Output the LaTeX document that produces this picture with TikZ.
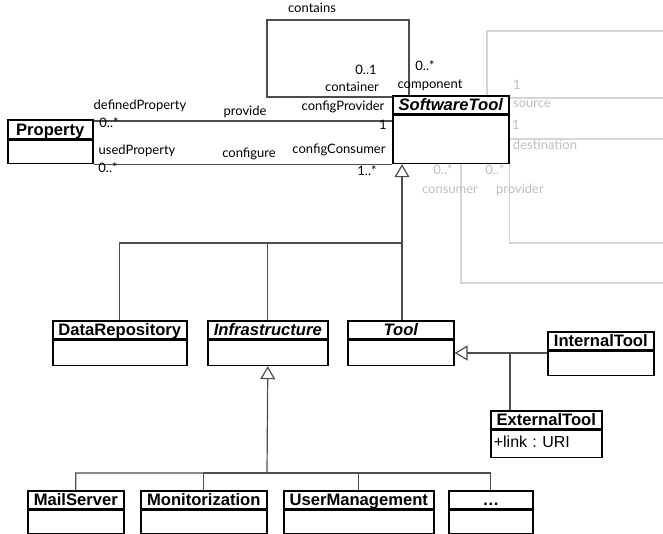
\documentclass[tikz,border=0pt]{standalone}
\usepackage{fontspec}
\setmainfont{Liberation Sans}
\newfontfamily\rolefont{Lato}
\usetikzlibrary{arrows.meta}
\definecolor{lines}{HTML}{4D4D4D}
\definecolor{faded}{HTML}{D6D6D6}
\definecolor{fadedtext}{HTML}{BEBEBE}
\frenchspacing
\begin{document}
\begin{tikzpicture}[x=1pt,y=-1pt,
  classhead/.style={draw,line width=1.6pt,anchor=north west,inner sep=0pt,minimum height=18pt,
    text height=15pt,text depth=3pt,font=\fontsize{16.6}{18}\selectfont\bfseries},
  abstract/.style={classhead,font=\fontsize{16.6}{18}\selectfont\bfseries\itshape},
  classbody/.style={draw,line width=1.6pt,anchor=north west,inner sep=0pt},
  assoc/.style={draw=lines,line width=1.2pt},
  inherit/.style={assoc,-{Triangle[open,length=13pt,width=15pt]}},
  faint/.style={draw=faded,line width=1.1pt},
  role/.style={font=\rolefont\fontsize{13}{15}\selectfont,inner sep=0pt,text height=9pt,text depth=3pt},
  faintrole/.style={role,text=fadedtext}]
\useasboundingbox (0,0) rectangle (663,533);
\node[classhead,minimum width=85pt,minimum height=19pt] (prop) at (7,119) {Property};
\node[classbody,minimum width=85pt,minimum height=23pt] (prop-b) at (prop.south west) {};
\node[abstract,minimum width=116pt] (st) at (392,95) {SoftwareTool};
\node[classbody,minimum width=116pt,minimum height=48pt] (st-b) at (st.south west) {};
\node[classhead,minimum width=134pt] (dr) at (52,320) {DataRepository};
\node[classbody,minimum width=134pt,minimum height=25pt] (dr-b) at (dr.south west) {};
\node[abstract,minimum width=120pt] (inf) at (207,320) {Infrastructure};
\node[classbody,minimum width=120pt,minimum height=25pt] (inf-b) at (inf.south west) {};
\node[abstract,minimum width=106pt] (tool) at (347,320) {Tool};
\node[classbody,minimum width=106pt,minimum height=25pt] (tool-b) at (tool.south west) {};
\node[classhead,minimum width=106pt] (it) at (547,331) {InternalTool};
\node[classbody,minimum width=106pt,minimum height=24pt] (it-b) at (it.south west) {};
\node[classhead,minimum width=111pt] (et) at (490,410) {ExternalTool};
\node[classbody,minimum width=111pt,minimum height=27pt,text width=105pt,inner xsep=3pt,align=left,
  text height=11pt,text depth=4pt,font=\fontsize{16}{18}\selectfont] (et-b) at (et.south west) {+link : URI};
\foreach \n/\x/\w/\t in {ms/27/96/MailServer,mon/140/126/Monitorization,um/283/150/UserManagement,more/448/84/\ldots}{
  \node[classhead,minimum width=\w pt] (\n) at (\x,490) {\t};
  \node[classbody,minimum width=\w pt,minimum height=23pt] (\n-b) at (\n.south west) {};
}
\draw[assoc] ([yshift=-2pt]prop.north east) -- ([yshift=-2pt]prop.north east -| st-b.west);
\draw[assoc] (prop-b.south east) -- (prop-b.south east -| st-b.west);
\coordinate (loop) at (267,20);
\draw[assoc] ([xshift=17pt]st.north west) |- (loop) |- ([yshift=-2pt]st.north west);
\coordinate (bus) at (402,243);
\draw[inherit] (dr.north) |- (bus) -- (bus |- st-b.south);
\draw[assoc] (inf.north) -- (inf.north |- bus);
\draw[assoc] (tool.north -| bus) -- (bus);
\coordinate (tj) at (510,353);
\draw[inherit] (it-b.west |- tj) -- (tool-b.east |- tj);
\draw[assoc] (et.north -| tj) -- (tj);
\coordinate (bus2) at (267,473);
\draw[inherit] (ms.north) |- (bus2) -- (inf-b.south);
\foreach \n in {mon,um,more}
  \draw[assoc] (\n.north) |- (bus2);
\coordinate (src) at (663,31);
\draw[faint] ([xshift=95pt]st.north west) |- (src);
\coordinate (src2) at (663,98);
\draw[faint] (src2 -| st.east) -- (src2);
\coordinate (dst) at (663,139);
\draw[faint] (dst -| st-b.east) -- (dst);
\coordinate (prv) at (663,243);
\draw[faint] (st-b.south east) |- (prv);
\coordinate (cns) at (663,283);
\draw[faint] ([xshift=69pt]st-b.south west) |- (cns);
\node[role] (l1) at (312,9) {contains};
\node[role] (l2) at (366,71) {0..1};
\node[role] (l3) at (352,88) {container};
\node[role] (l4) at (425,67) {0..*};
\node[role] (l5) at (430,85) {component};
\node[role] (l6) at (140,106) {definedProperty};
\node[role] (l7) at (245,112) {provide};
\node[role] (l8) at (343,107) {configProvider};
\node[role] (l9) at (109,124) {0..*};
\node[role] (l10) at (383,126) {1};
\node[role] (l11) at (137,151) {usedProperty};
\node[role] (l12) at (249,154) {configure};
\node[role] (l13) at (339,150) {configConsumer};
\node[role] (l14) at (108,169) {0..*};
\node[role] (l15) at (367,172) {1..*};
\node[faintrole] (f1) at (517,86) {1};
\node[faintrole] (f2) at (532,104) {source};
\node[faintrole] (f3) at (516,126) {1};
\node[faintrole] (f4) at (545,146) {destination};
\node[faintrole] (f5) at (443,171) {0..*};
\node[faintrole] (f6) at (450,190) {consumer};
\node[faintrole] (f7) at (495,171) {0..*};
\node[faintrole] (f8) at (520,190) {provider};
\end{tikzpicture}
\end{document}
